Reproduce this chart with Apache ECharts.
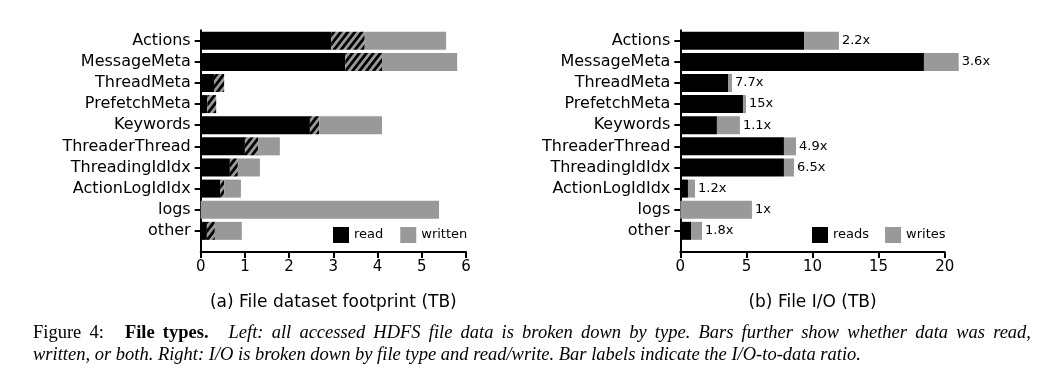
<!DOCTYPE html>
<html><head><meta charset="utf-8">
<script src="https://cdn.jsdelivr.net/npm/echarts@6/dist/echarts.min.js"></script>
<style>
html,body{margin:0;padding:0;background:#fff;}
#wrap{position:relative;width:1052px;height:384px;overflow:hidden;}
#c{position:absolute;left:0;top:0;width:1052px;height:384px;}
.cap{position:absolute;font-family:'Liberation Serif',serif;font-size:18.5px;line-height:22px;color:#000;white-space:nowrap;}
#cap1{left:33px;top:321px;width:998px;text-align:justify;text-align-last:justify;white-space:normal;}
#cap2{left:33px;top:343px;}
.cap i{font-style:italic;} .cap b{font-weight:bold;}
</style>
</head><body><div id="wrap"><div id="c"></div>
<div class="cap" id="cap1"></div>
<div class="cap" id="cap2"></div></div>
<script>
const categories = ['Actions','MessageMeta','ThreadMeta','PrefetchMeta','Keywords','ThreaderThread','ThreadingIdIdx','ActionLogIdIdx','logs','other'];
// (a) footprint, TB: read only / read and written (hatched) / written only
const footprintRead    = [2.95, 3.27, 0.30, 0.15, 2.47, 1.00, 0.66, 0.44, 0.00, 0.14];
const footprintBoth    = [0.76, 0.83, 0.23, 0.20, 0.21, 0.30, 0.18, 0.09, 0.00, 0.18];
const footprintWritten = [1.84, 1.70, 0.00, 0.00, 1.42, 0.49, 0.50, 0.38, 5.39, 0.61];
// (b) I/O, TB
const ioReads  = [9.36, 18.43, 3.61, 4.74, 2.77, 7.84, 7.84, 0.58, 0.00, 0.81];
const ioWrites = [2.64, 2.63, 0.30, 0.23, 1.74, 0.91, 0.76, 0.53, 5.42, 0.83];
const ioRatioLabels = ['2.2x','3.6x','7.7x','15x','1.1x','4.9x','6.5x','1.2x','1x','1.8x'];
const footprintAxis = {min: 0, max: 6, interval: 1};
const ioAxis = {min: 0, max: 20, interval: 5};
const titleA = '(a) File dataset footprint (TB)';
const titleB = '(b) File I/O (TB)';
const captionLead = 'Figure 4:';
const captionBold = 'File types.';
const captionLine1 = 'Left: all accessed HDFS file data is broken down by type.  Bars further show whether data was read,';
const captionLine2 = 'written, or both. Right: I/O is broken down by file type and read/write. Bar labels indicate the I/O-to-data ratio.';

// caption as real text
(function(){
  const c1 = document.getElementById('cap1');
  const s1 = document.createElement('span'); s1.textContent = captionLead; s1.style.marginRight = '21px'; c1.appendChild(s1);
  const b = document.createElement('b'); b.textContent = captionBold; b.style.marginRight = '20px'; c1.appendChild(b);
  const i = document.createElement('i'); i.textContent = captionLine1; c1.appendChild(i);
  const c2 = document.getElementById('cap2');
  const i2 = document.createElement('i'); i2.textContent = captionLine2; c2.appendChild(i2);
})();

// hatch pattern: black diagonal stripes on grey
function makeHatch(){
  const w = 7, h = 9, c = document.createElement('canvas');
  c.width = w; c.height = h;
  const ctx = c.getContext('2d');
  const img = ctx.createImageData(w, h);
  for (let y = 0; y < h; y++) for (let x = 0; x < w; x++) {
    let cov = 0, S = 4;
    for (let sy = 0; sy < S; sy++) for (let sx = 0; sx < S; sx++) {
      const px = x + (sx + 0.5) / S, py = y + (sy + 0.5) / S;
      let ph = (px + py * w / h) % w; if (ph < 0) ph += w;
      if (ph < w * 0.5) cov++;
    }
    const f = cov / (S * S);
    const v = Math.round(153 * (1 - f));
    const k = (y * w + x) * 4;
    img.data[k] = v; img.data[k+1] = v; img.data[k+2] = v; img.data[k+3] = 255;
  }
  ctx.putImageData(img, 0, 0);
  return c;
}
const hatch = makeHatch();

const FONT = 'DejaVu Sans';
const GREY = '#999999';
const band = 21.12;
const plotTop = 30.2;
const barsH = band * categories.length;
const axesH = 252 - plotTop;
const L = {left: 200.7, width: 265.3};
const R = {left: 680.3, width: 264.4};

function valueAxisVisible(grid, ax, name){
  return {type: 'value', gridIndex: grid, min: ax.min, max: ax.max, interval: ax.interval,
    axisLine: {show: true, lineStyle: {color: '#000', width: 2}},
    axisTick: {show: true, length: 6, lineStyle: {color: '#000', width: 2}},
    axisLabel: {show: true, color: '#000', fontSize: 15, fontFamily: FONT, margin: 8},
    splitLine: {show: false},
    name: name, nameLocation: 'middle', nameGap: 42,
    nameTextStyle: {color: '#000', fontSize: 17, fontFamily: FONT}};
}
function valueAxisHidden(grid, ax){
  return {type: 'value', gridIndex: grid, min: ax.min, max: ax.max, show: false, splitLine: {show: false}};
}
function catAxis(grid){
  return {type: 'category', gridIndex: grid, data: categories, inverse: true,
    axisLine: {show: false},
    axisTick: {show: true, alignWithLabel: true, length: 6, lineStyle: {color: '#000', width: 2}},
    axisLabel: {color: '#000', fontSize: 16, fontFamily: FONT, margin: 10}};
}
function frameAxis(grid){
  return {type: 'value', gridIndex: grid, min: 0, max: 1,
    axisLine: {show: true, lineStyle: {color: '#000', width: 2}},
    axisTick: {show: false}, axisLabel: {show: false}, splitLine: {show: false}};
}

const option = {
  animation: false,
  backgroundColor: '#fff',
  textStyle: {fontFamily: FONT},
  grid: [
    {left: L.left, width: L.width, top: plotTop, height: barsH},
    {left: L.left, width: L.width, top: plotTop, height: axesH},
    {left: R.left, width: R.width, top: plotTop, height: barsH},
    {left: R.left, width: R.width, top: plotTop, height: axesH}
  ],
  xAxis: [
    valueAxisHidden(0, footprintAxis),
    valueAxisVisible(1, footprintAxis, titleA),
    valueAxisHidden(2, ioAxis),
    valueAxisVisible(3, ioAxis, titleB)
  ],
  yAxis: [catAxis(0), frameAxis(1), catAxis(2), frameAxis(3)],
  legend: [
    {data: ['read', 'written'], left: 333, top: 227, padding: 0, itemWidth: 16, itemHeight: 16, itemGap: 17,
     icon: 'rect', textStyle: {color: '#000', fontSize: 13, fontFamily: FONT}},
    {data: ['reads', 'writes'], left: 812, top: 227, padding: 0, itemWidth: 16, itemHeight: 16, itemGap: 16,
     icon: 'rect', textStyle: {color: '#000', fontSize: 13, fontFamily: FONT}}
  ],
  series: [
    {name: 'read', type: 'bar', xAxisIndex: 0, yAxisIndex: 0, stack: 'fp', barWidth: 18, data: footprintRead,
     itemStyle: {color: '#000'}},
    {name: 'both', type: 'bar', xAxisIndex: 0, yAxisIndex: 0, stack: 'fp', barWidth: 18, data: footprintBoth,
     itemStyle: {color: {image: hatch, repeat: 'repeat'}}},
    {name: 'written', type: 'bar', xAxisIndex: 0, yAxisIndex: 0, stack: 'fp', barWidth: 18, data: footprintWritten,
     itemStyle: {color: GREY}},
    {name: 'reads', type: 'bar', xAxisIndex: 2, yAxisIndex: 2, stack: 'io', barWidth: 18, data: ioReads, clip: false,
     itemStyle: {color: '#000'}},
    {name: 'writes', type: 'bar', xAxisIndex: 2, yAxisIndex: 2, stack: 'io', barWidth: 18, data: ioWrites, clip: false,
     itemStyle: {color: GREY},
     label: {show: true, position: 'right', distance: 3, color: '#000', fontSize: 13, fontFamily: FONT,
       formatter: p => ioRatioLabels[p.dataIndex]}}
  ]
};
const chart = echarts.init(document.getElementById('c'));
chart.setOption(option);
</script></body></html>
